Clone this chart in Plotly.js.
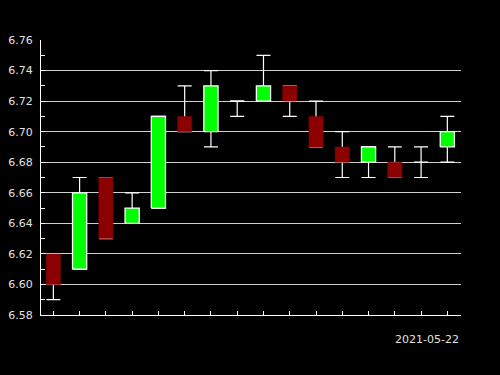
<!DOCTYPE html>
<html>
<head>
<meta charset="utf-8">
<script src="https://cdn.plot.ly/plotly-3.0.1.min.js"></script>
<style>
  html, body { margin: 0; padding: 0; background: #000; }
  #chart { width: 500px; height: 375px; }
</style>
</head>
<body>
<div id="chart"></div>
<script>
// Daily OHLC prices
var dates = ['2021-05-07', '2021-05-08', '2021-05-09', '2021-05-10', '2021-05-11', '2021-05-12',
             '2021-05-13', '2021-05-14', '2021-05-15', '2021-05-16', '2021-05-17', '2021-05-18',
             '2021-05-19', '2021-05-20', '2021-05-21', '2021-05-22'];
var openP  = [6.62, 6.61, 6.67, 6.64, 6.65, 6.71, 6.70, 6.72, 6.72, 6.73, 6.71, 6.69, 6.68, 6.68, 6.68, 6.69];
var highP  = [6.62, 6.67, 6.67, 6.66, 6.71, 6.73, 6.74, 6.72, 6.75, 6.73, 6.72, 6.70, 6.69, 6.69, 6.69, 6.71];
var lowP   = [6.59, 6.61, 6.63, 6.64, 6.65, 6.70, 6.69, 6.71, 6.72, 6.71, 6.69, 6.67, 6.67, 6.67, 6.67, 6.68];
var closeP = [6.60, 6.66, 6.63, 6.65, 6.71, 6.70, 6.73, 6.72, 6.73, 6.72, 6.69, 6.68, 6.69, 6.67, 6.68, 6.70];

var DAY = 86400000;
var HALF_BODY = 0.27 * DAY;
var UP = '#00ff00', DOWN = '#8b0000';

function ms(d) { return new Date(d + 'T00:00:00Z').getTime(); }

// Wicks: a line from low to high with a cap at each end
var wicks = {
  type: 'scatter', mode: 'markers', x: dates, y: lowP,
  marker: { size: 1, opacity: 0 },
  error_y: {
    type: 'data', symmetric: false, visible: true,
    array: highP.map(function (h, i) { return +(h - lowP[i]).toFixed(4); }),
    arrayminus: lowP.map(function () { return 0; }),
    color: '#ffffff', thickness: 1.2, width: 7
  },
  hoverinfo: 'skip', showlegend: false
};

// Candle bodies as closed rectangles, drawn above the wicks
function bodies(rising, color, lineColor) {
  var xs = [], ys = [];
  dates.forEach(function (d, i) {
    var up = closeP[i] >= openP[i];
    if (up !== rising) return;
    var c = ms(d), lo = Math.min(openP[i], closeP[i]), hi = Math.max(openP[i], closeP[i]);
    xs.push(c - HALF_BODY, c + HALF_BODY, c + HALF_BODY, c - HALF_BODY, c - HALF_BODY, null);
    ys.push(lo, lo, hi, hi, lo, null);
  });
  return {
    type: 'scatter', mode: 'lines', x: xs, y: ys, fill: 'toself', fillcolor: color,
    line: { color: lineColor, width: rising ? 1.3 : 0.5 },
    connectgaps: false, hoverinfo: 'skip', showlegend: false
  };
}

var traces = [wicks, bodies(true, UP, '#ffffff'), bodies(false, DOWN, DOWN)];

var layout = {
  width: 500, height: 375,
  paper_bgcolor: '#000000', plot_bgcolor: '#000000',
  margin: { l: 41, r: 39, t: 40, b: 60 },
  font: { family: 'DejaVu Sans', size: 11, color: '#e0e0e0' },
  showlegend: false,
  xaxis: {
    type: 'date',
    range: [ms(dates[0]) - 0.47 * DAY, ms(dates[dates.length - 1]) + 0.52 * DAY],
    tick0: dates[0], dtick: DAY,
    showticklabels: false, showgrid: false, zeroline: false,
    ticks: 'inside', ticklen: 4, tickwidth: 1, tickcolor: '#ffffff',
    showline: true, linecolor: '#ffffff', linewidth: 1
  },
  yaxis: {
    range: [6.58, 6.76], dtick: 0.02, tickformat: '.2f',
    showgrid: true, gridcolor: '#d0d0d0', gridwidth: 1, zeroline: false,
    ticks: 'inside', ticklen: 4, tickcolor: '#ffffff',
    minor: { dtick: 0.01, ticks: 'inside', ticklen: 4, tickcolor: '#ffffff', showgrid: false },
    showline: true, linecolor: '#ffffff', linewidth: 1,
    ticklabelstandoff: 5,
    tickfont: { family: 'DejaVu Sans', size: 11, color: '#e0e0e0' }
  },
  annotations: [{
    xref: 'paper', yref: 'paper', x: 1, y: -0.09, xanchor: 'right', yanchor: 'middle',
    text: dates[dates.length - 1], showarrow: false,
    font: { family: 'DejaVu Sans', size: 11, color: '#e0e0e0' }
  }]
};

Plotly.newPlot('chart', traces, layout, { staticPlot: true, displayModeBar: false });
</script>
</body>
</html>
